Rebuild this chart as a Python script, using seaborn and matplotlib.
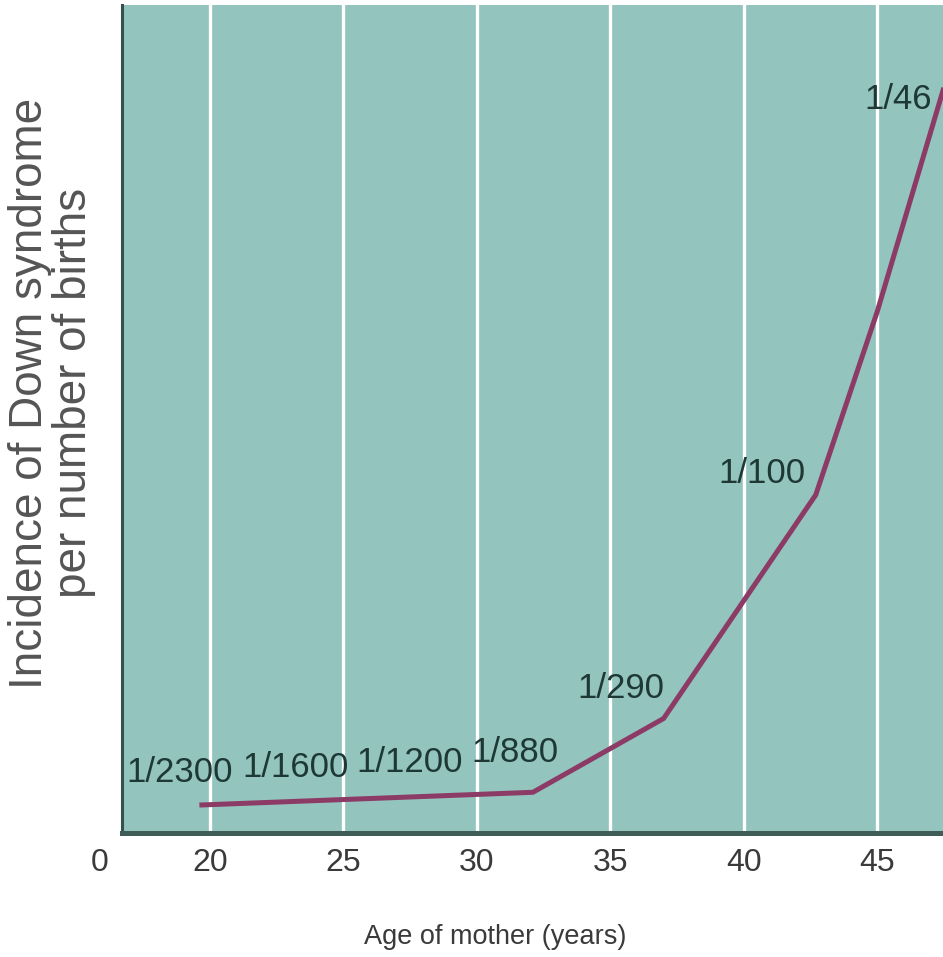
import matplotlib
matplotlib.use("Agg")
import matplotlib.pyplot as plt
from matplotlib import font_manager
import seaborn as sns
import pandas as pd

# ---------------- data ----------------
ages = [19.6, 32.1, 37.0, 42.7, 45.0, 47.5]          # age of mother (years)
incidence = [0.81, 1.18, 3.32, 9.80, 15.1, 21.6]      # relative incidence (arbitrary scale, ~ per 1000)
rate_labels = ["1/2300", "1/1600", "1/1200", "1/880", "1/290", "1/100", "1/46"]
tick_values = [20, 25, 30, 35, 40, 45]
tick_labels = ["20", "25", "30", "35", "40", "45"]
zero_label = "0"
x_title = "Age of mother (years)"
y_title = "Incidence of Down syndrome\nper number of births"

# ---------------- layout ----------------
label_pos = [(18.87, 1.76), (23.22, 1.91), (27.49, 2.05), (31.43, 2.34),
             (35.40, 4.19), (40.69, 10.43), (45.79, 21.27)]
XLIM = (16.70, 47.47)
YLIM = (0, 24)
BG = "#93c4bd"
LINE = "#8c3b67"
TXT = "#1e3836"

sns.set_style("white", {"axes.facecolor": BG})
names = {f.name for f in font_manager.fontManager.ttflist}
narrow = "Liberation Sans Narrow" if "Liberation Sans Narrow" in names else "Liberation Sans"
plt.rcParams["font.family"] = [narrow, "DejaVu Sans"]

fig = plt.figure(figsize=(9.43, 9.57), dpi=100)
ax = fig.add_axes([122 / 943, 124 / 957, 821 / 943, (957 - 124 - 5) / 957])

df = pd.DataFrame({"age": ages, "incidence": incidence})
for v in tick_values:
    ax.axvline(v, color="white", lw=2.4, zorder=1)
sns.lineplot(data=df, x="age", y="incidence", ax=ax, color=LINE, lw=3.6,
             zorder=3, clip_on=False, solid_capstyle="butt")

for txt, (x, y) in zip(rate_labels, label_pos):
    ax.text(x, y, txt, ha="center", va="center", fontsize=25, color=TXT, zorder=4)

ax.set_xlim(*XLIM)
ax.set_ylim(*YLIM)
ax.set_xticks(tick_values)
ax.set_xticklabels(tick_labels)
ax.set_yticks([])
ax.tick_params(axis="x", length=0, pad=11, labelsize=23, labelcolor="#3a3a3a")
ax.set_xlabel("")
ax.set_ylabel("")
ax.grid(False)

for side in ["top", "right"]:
    ax.spines[side].set_visible(False)
ax.spines["left"].set_color("#34524d")
ax.spines["left"].set_linewidth(2.2)
ax.spines["bottom"].set_color("#3f5c57")
ax.spines["bottom"].set_linewidth(3.6)

ax.annotate(zero_label, xy=(15.88, 0), xycoords=ax.get_xaxis_transform(),
            xytext=(0, -11), textcoords="offset points", ha="center", va="top",
            fontsize=23, color="#3a3a3a", annotation_clip=False)

fig.text(495 / 943, 1 - 937 / 957, x_title, ha="center", va="center",
         fontsize=19.5, color="#3a3a3a")
fig.text(52 / 943, 1 - 393 / 957, y_title, ha="center", va="center",
         rotation=90, multialignment="center", fontsize=33, linespacing=0.98,
         color="#555555", family=["Liberation Sans", "DejaVu Sans"])

fig.savefig("out.png", dpi=100)
